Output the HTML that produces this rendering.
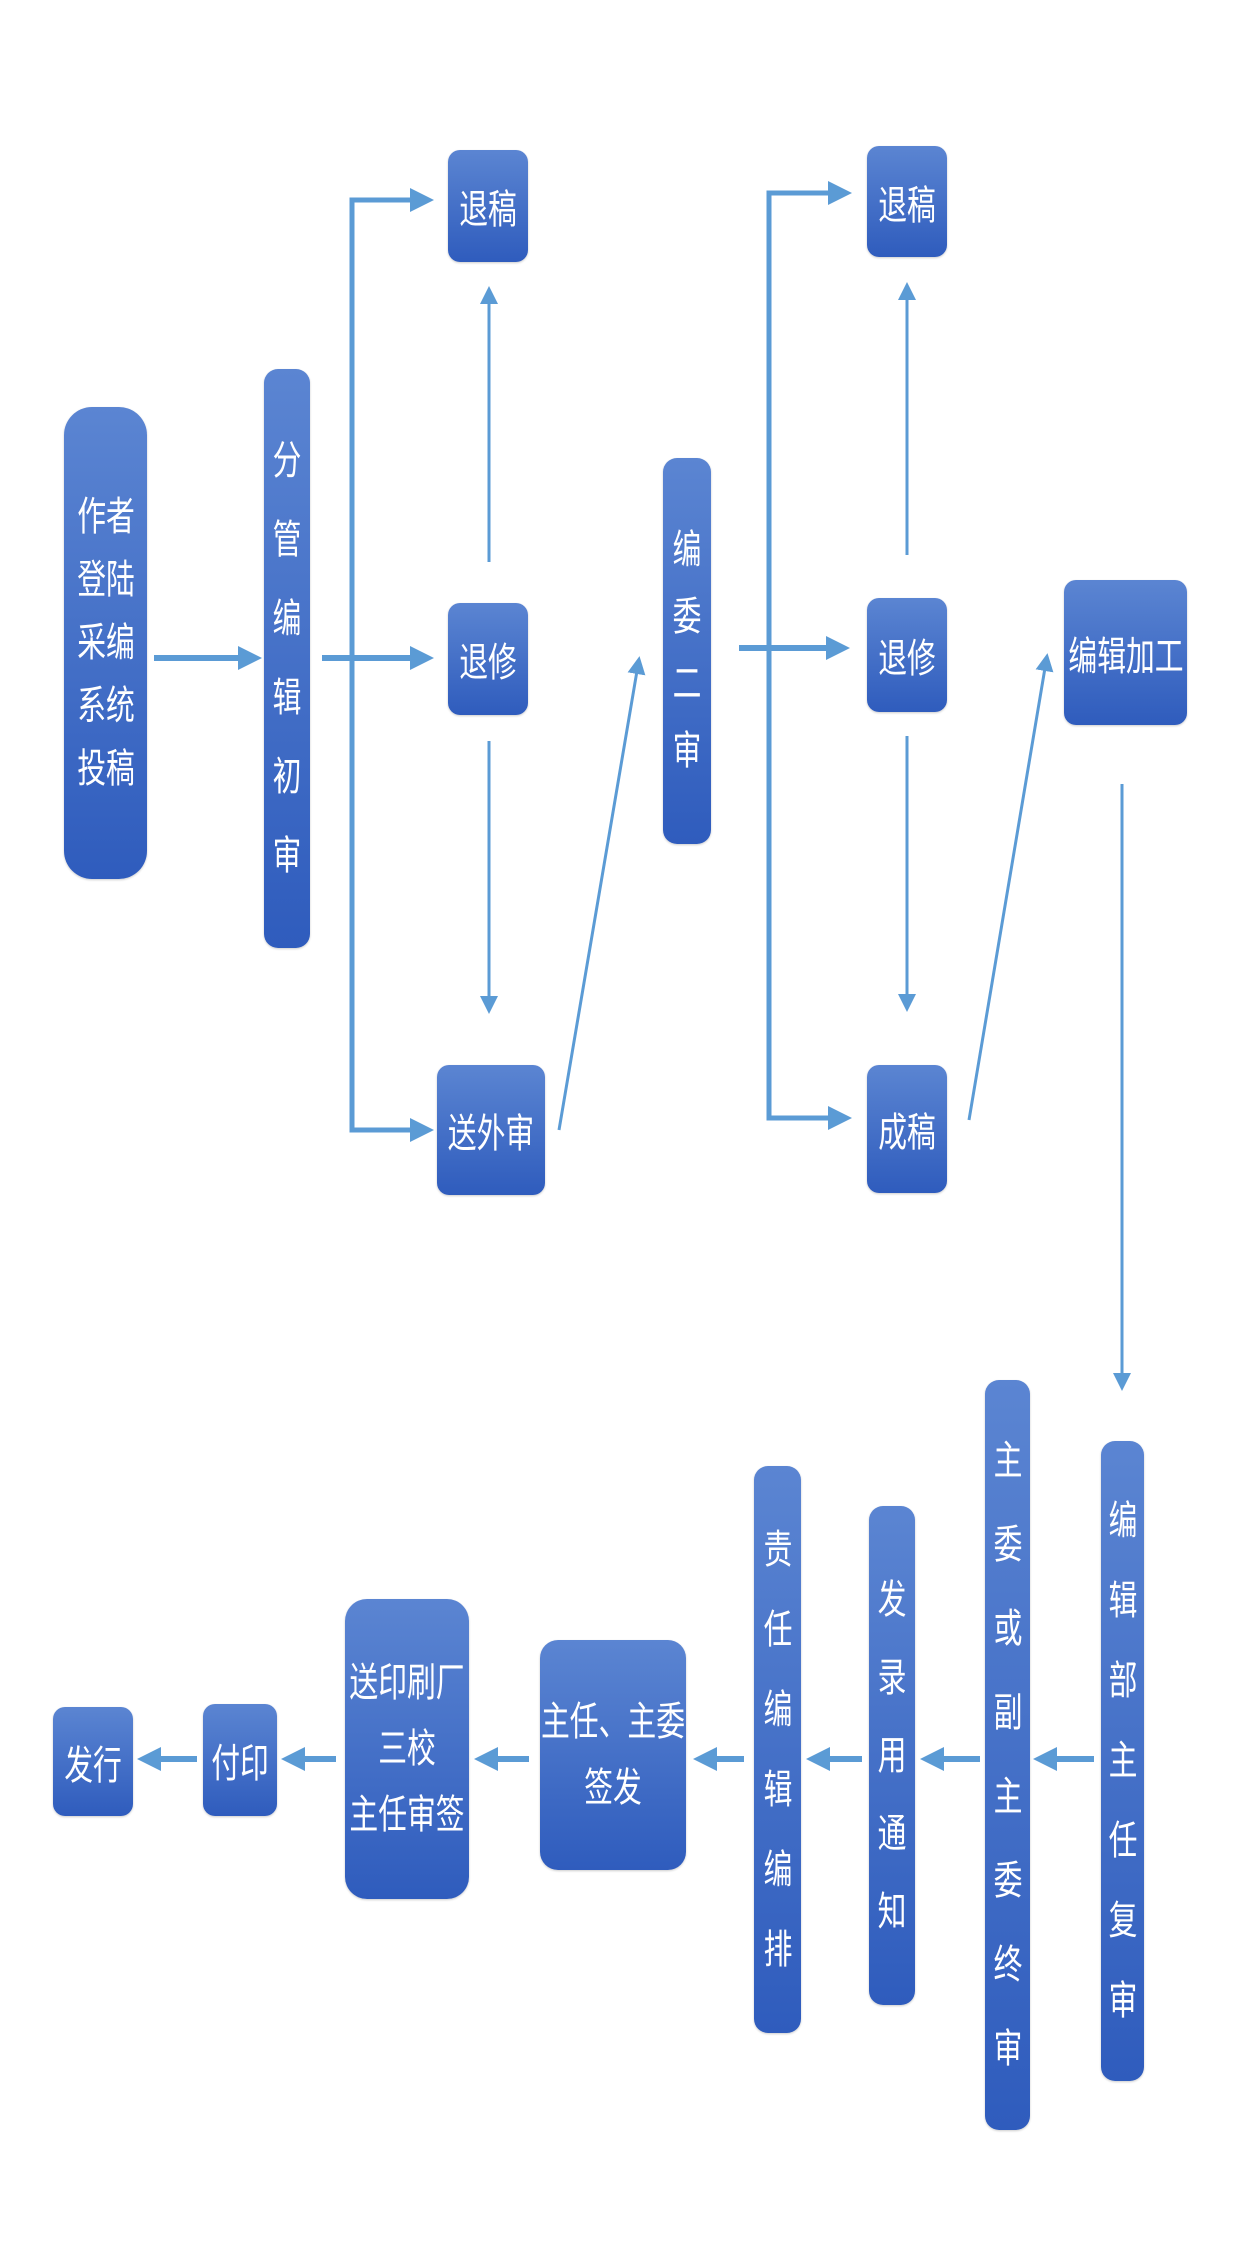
<!DOCTYPE html>
<html><head><meta charset="utf-8"><style>
body{margin:0;width:1241px;height:2258px;background:#fff;position:relative;overflow:hidden;font-family:"Liberation Sans","Noto Sans CJK SC",sans-serif}
.b{position:absolute;border-radius:12px;background:linear-gradient(#5b85d2,#2f5cbd);color:#fff;display:flex;align-items:center;justify-content:center;text-align:center;box-shadow:0 1px 2px rgba(0,0,0,.2)}
.t{display:inline-block;transform:scaleX(.72);font-size:40px;white-space:nowrap}
svg{position:absolute;left:0;top:0}
</style></head><body>
<svg width="1241" height="2258">
<defs>
<marker id="a" markerWidth="4" markerHeight="4" refX="2" refY="2" orient="auto" markerUnits="strokeWidth"><path d="M0,0 L4,2 L0,4 z" fill="#5b9bd5"/></marker>
<marker id="s" markerWidth="6" markerHeight="6" refX="3" refY="3" orient="auto" markerUnits="strokeWidth"><path d="M0,0 L6,3 L0,6 z" fill="#5b9bd5"/></marker>
</defs>
<g stroke="#5b9bd5" fill="none">
<g stroke-width="6">
<line x1="154" y1="658" x2="250" y2="658" marker-end="url(#a)"/>
<line x1="322" y1="658" x2="422" y2="658" marker-end="url(#a)"/>
<polyline points="422,200 352,200 352,1130 422,1130" stroke-width="5"/>
<line x1="415" y1="200" x2="422" y2="200" marker-end="url(#a)"/>
<line x1="415" y1="1130" x2="422" y2="1130" marker-end="url(#a)"/>
<line x1="739" y1="648" x2="838" y2="648" marker-end="url(#a)"/>
<polyline points="840,193 769,193 769,1118 840,1118" stroke-width="5"/>
<line x1="833" y1="193" x2="840" y2="193" marker-end="url(#a)"/>
<line x1="833" y1="1118" x2="840" y2="1118" marker-end="url(#a)"/>
<line x1="1094" y1="1759" x2="1045" y2="1759" marker-end="url(#a)"/>
<line x1="980" y1="1759" x2="932" y2="1759" marker-end="url(#a)"/>
<line x1="862" y1="1759" x2="818" y2="1759" marker-end="url(#a)"/>
<line x1="744" y1="1759" x2="705" y2="1759" marker-end="url(#a)"/>
<line x1="529" y1="1759" x2="486" y2="1759" marker-end="url(#a)"/>
<line x1="336" y1="1759" x2="293" y2="1759" marker-end="url(#a)"/>
<line x1="197" y1="1759" x2="149" y2="1759" marker-end="url(#a)"/>
</g>
<g stroke-width="3">
<line x1="489" y1="562" x2="489" y2="295" marker-end="url(#s)"/>
<line x1="489" y1="741" x2="489" y2="1005" marker-end="url(#s)"/>
<line x1="559" y1="1130" x2="638" y2="665" marker-end="url(#s)"/>
<line x1="907" y1="555" x2="907" y2="291" marker-end="url(#s)"/>
<line x1="907" y1="736" x2="907" y2="1003" marker-end="url(#s)"/>
<line x1="969" y1="1120" x2="1046" y2="662" marker-end="url(#s)"/>
<line x1="1122" y1="784" x2="1122" y2="1382" marker-end="url(#s)"/>
</g>
</g>
</svg>
<div class="b" style="left:64px;top:407px;width:83px;height:472px;border-radius:28px"><span class="t" style="line-height:63px">作者<br>登陆<br>采编<br>系统<br>投稿</span></div>
<div class="b" style="left:264px;top:369px;width:46px;height:579px;border-radius:14px"><span class="t" style="line-height:79px">分<br>管<br>编<br>辑<br>初<br>审</span></div>
<div class="b" style="left:448px;top:150px;width:80px;height:112px"><span class="t">退稿</span></div>
<div class="b" style="left:448px;top:603px;width:80px;height:112px"><span class="t">退修</span></div>
<div class="b" style="left:437px;top:1065px;width:108px;height:130px"><span class="t">送外审</span></div>
<div class="b" style="left:663px;top:458px;width:48px;height:386px;border-radius:14px"><span class="t" style="line-height:67px">编<br>委<br>二<br>审</span></div>
<div class="b" style="left:867px;top:146px;width:80px;height:111px"><span class="t">退稿</span></div>
<div class="b" style="left:867px;top:598px;width:80px;height:114px"><span class="t">退修</span></div>
<div class="b" style="left:867px;top:1065px;width:80px;height:128px"><span class="t">成稿</span></div>
<div class="b" style="left:1064px;top:580px;width:123px;height:145px"><span class="t">编辑加工</span></div>
<div class="b" style="left:1101px;top:1441px;width:43px;height:640px;border-radius:14px"><span class="t" style="line-height:80px">编<br>辑<br>部<br>主<br>任<br>复<br>审</span></div>
<div class="b" style="left:985px;top:1380px;width:45px;height:750px;border-radius:14px"><span class="t" style="line-height:84px">主<br>委<br>或<br>副<br>主<br>委<br>终<br>审</span></div>
<div class="b" style="left:869px;top:1506px;width:46px;height:499px;border-radius:14px"><span class="t" style="line-height:78px">发<br>录<br>用<br>通<br>知</span></div>
<div class="b" style="left:754px;top:1466px;width:47px;height:567px;border-radius:14px"><span class="t" style="line-height:80px">责<br>任<br>编<br>辑<br>编<br>排</span></div>
<div class="b" style="left:540px;top:1640px;width:146px;height:230px;border-radius:18px"><span class="t" style="line-height:66px">主任、主委<br>签发</span></div>
<div class="b" style="left:345px;top:1599px;width:124px;height:300px;border-radius:22px"><span class="t" style="line-height:66px">送印刷厂<br>三校<br>主任审签</span></div>
<div class="b" style="left:203px;top:1704px;width:74px;height:112px"><span class="t">付印</span></div>
<div class="b" style="left:53px;top:1707px;width:80px;height:109px"><span class="t">发行</span></div>
</body></html>
